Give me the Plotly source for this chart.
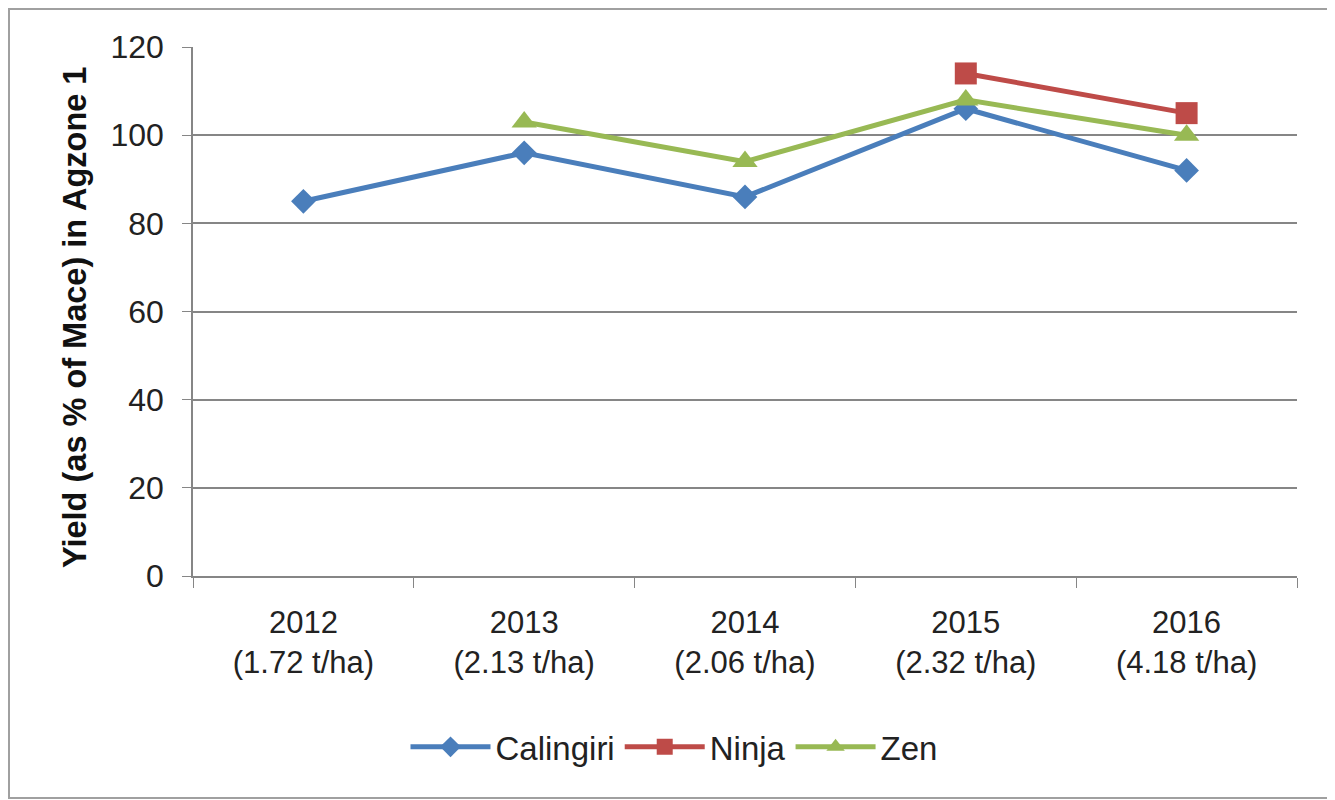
import plotly.graph_objects as go

categories = ["2012<br>(1.72 t/ha)", "2013<br>(2.13 t/ha)", "2014<br>(2.06 t/ha)",
              "2015<br>(2.32 t/ha)", "2016<br>(4.18 t/ha)"]
calingiri = [85, 96, 86, 106, 92]
ninja = [None, None, None, 114, 105]
zen = [None, 103, 94, 108, 100]
y_title = "Yield (as % of Mace) in Agzone 1"

# page body has an 8px margin; size the figure so the plot lands where the reference has it
W, H = 1327, 792
ml, mr, mt, mb = 185, 38, 39, 224
pw, ph = W - ml - mr, H - mt - mb

font_main = "Liberation Sans, Arial, sans-serif"

fig = go.Figure()
fig.add_trace(go.Scatter(x=categories, y=calingiri, name="Calingiri", mode="lines+markers",
                         line=dict(color="#4A7EBB", width=5),
                         marker=dict(symbol="diamond", size=19, color="#4A7EBB")))
fig.add_trace(go.Scatter(x=categories, y=ninja, name="Ninja", mode="lines+markers",
                         line=dict(color="#BE4B48", width=5),
                         marker=dict(symbol="square", size=22, color="#BE4B48")))
fig.add_trace(go.Scatter(x=categories, y=zen, name="Zen", mode="lines+markers",
                         line=dict(color="#98B954", width=5),
                         marker=dict(symbol="triangle-up", size=22, color="#98B954")))

fig.update_layout(
    width=W, height=H,
    margin=dict(l=ml, r=mr, t=mt, b=mb),
    paper_bgcolor="white", plot_bgcolor="white",
    font=dict(family=font_main, size=31, color="#222"),
    showlegend=True,
    legend=dict(orientation="h", x=(666 - ml) / pw, xanchor="center", y=-0.27, yanchor="top",
                font=dict(size=33, family=font_main), itemwidth=80),
    xaxis=dict(type="category", showgrid=False, showline=True, linecolor="#868686", linewidth=1.5,
               ticks="outside", ticklen=10, tickcolor="#868686", tickson="boundaries",
               tickfont=dict(size=31, family=font_main), range=[-0.5, 4.5],
               ticklabelstandoff=18),
    yaxis=dict(range=[0, 120], dtick=20, showgrid=True, gridcolor="#868686", gridwidth=1.5,
               showline=True, linecolor="#868686", linewidth=1.5,
               ticks="outside", ticklen=9, tickcolor="#868686", zeroline=False,
               tickfont=dict(size=32, family=font_main), ticklabelstandoff=12),
)

fig.add_annotation(text="<b>" + y_title + "</b>", textangle=-90, showarrow=False,
                   xref="paper", yref="paper",
                   x=(67 - ml) / pw, y=(mt + ph - 310) / ph,
                   xanchor="center", yanchor="middle",
                   font=dict(size=32.5, family=font_main, color="#111"))

fig.add_shape(type="rect", xref="paper", yref="paper",
              x0=(1 - ml) / pw, x1=(W - 2 - ml) / pw,
              y0=(mt + ph - (H - 2)) / ph, y1=(mt + ph - 1) / ph,
              line=dict(color="#A0A0A0", width=2), fillcolor="rgba(0,0,0,0)", layer="below")

fig.write_html("out.html")
